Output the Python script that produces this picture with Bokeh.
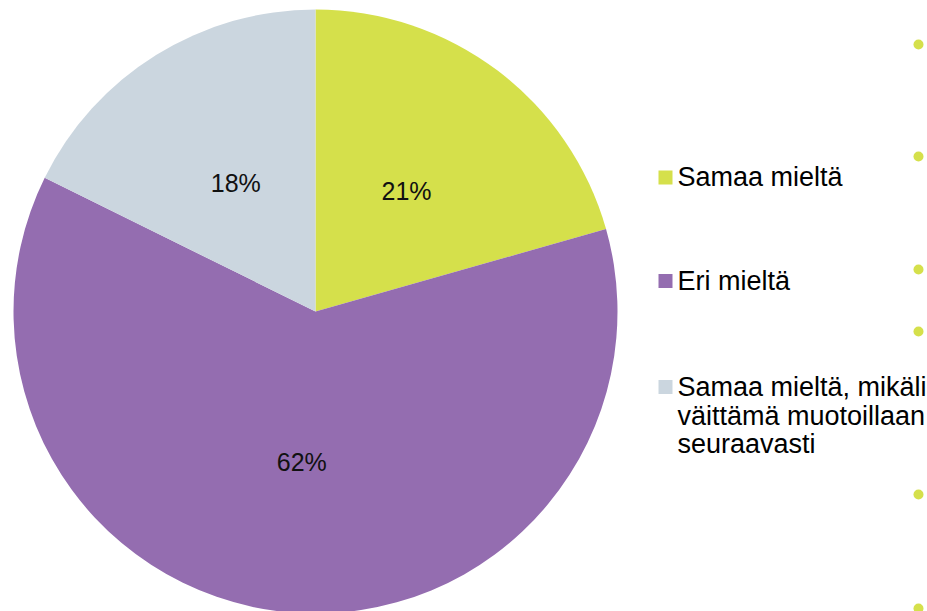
import math
from bokeh.plotting import figure
from bokeh.models import Range1d, ColumnDataSource
from bokeh.core.properties import value
from bokeh.embed import file_html
from bokeh.resources import INLINE

# Data
categories = ["Samaa mieltä", "Eri mieltä", "Samaa mieltä, mikäli\nväittämä muotoillaan\nseuraavasti"]
shares = [20.6, 61.7, 17.7]
colors = ["#D5E04B", "#946DB0", "#CBD6DF"]
pct_labels = [f"{round(s)}%" for s in shares]

# decorative template bullets (page y positions)
bullet_y = [44, 156, 269, 331, 494, 608]

W, H = 927, 611
p = figure(width=W, height=H, output_backend="svg", toolbar_location=None,
           x_range=Range1d(0, W), y_range=Range1d(0, H), min_border=0)
p.axis.visible = False
p.grid.visible = False
p.outline_line_color = None
p.background_fill_color = "white"
p.border_fill_color = "white"

cx, cy, R = 315, H - 311, 302
total = sum(shares)
starts, ends, lx, ly = [], [], [], []
a = math.pi / 2
for s in shares:
    d = 2 * math.pi * s / total
    starts.append(a)
    ends.append(a - d)
    mid = a - d / 2
    lx.append(cx + 0.5 * R * math.cos(mid))
    ly.append(cy + 0.5 * R * math.sin(mid))
    a -= d

src = ColumnDataSource(dict(start=starts, end=ends, color=colors, lx=lx, ly=ly, lab=pct_labels))
p.wedge(x=cx, y=cy, radius=R, start_angle="start", end_angle="end", direction="clock",
        fill_color="color", line_color=None, source=src)
p.text(x="lx", y="ly", text="lab", source=src, text_align="center", text_baseline="middle",
       text_font=value("Liberation Sans"), text_font_size="25px", text_color="#111111")

# legend drawn manually
sq_y = [H - 177, H - 280.5, H - 386.5]
base_y = [H - 176.5, H - 280.5, H - 386.5]
p.scatter(x=[665] * 3, y=sq_y, marker="square", size=14, fill_color=colors, line_color=None)
tx, ty = [], []
for cat, by in zip(categories, base_y):
    for i, line in enumerate(cat.split("\n")):
        tx.append(677)
        ty.append(by - 28.5 * i)
texts = [l for c in categories for l in c.split("\n")]
p.text(x=tx, y=ty, text=texts, text_align="left", text_baseline="alphabetic",
       text_font=value("Liberation Sans"), text_font_size="27px", text_color="#000000")

p.scatter(x=[918] * len(bullet_y), y=[H - b for b in bullet_y], marker="circle", size=10,
          fill_color="#D5E04B", line_color=None)

open("out.html", "w").write(file_html(p, INLINE))
